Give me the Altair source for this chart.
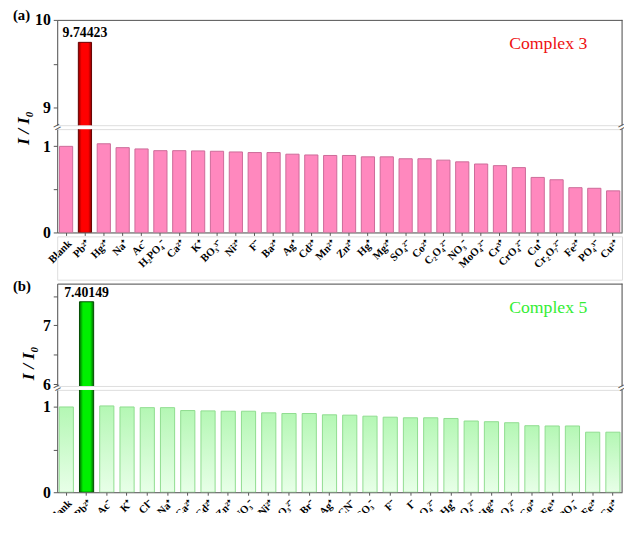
import altair as alt
import pandas as pd

FONT = "Liberation Serif"

ions_a = ["Blank", "Pb²⁺", "Hg²⁺", "Na⁺", "Ac⁻", "H₂PO₄⁻", "Ca²⁺", "K⁺", "BO₃³⁻", "Ni²⁺",
          "F⁻", "Ba²⁺", "Ag⁺", "Cd²⁺", "Mn²⁺", "Zn²⁺", "Hg⁺", "Mg²⁺", "SO₄²⁻", "Co²⁺",
          "C₂O₄²⁻", "NO₃⁻", "MoO₄²⁻", "Cr³⁺", "CrO₄²⁻", "Cu⁺", "Cr₂O₇²⁻", "Fe²⁺", "PO₄³⁻", "Cu²⁺"]
vals_a = [1.00, 9.74423, 1.03, 0.985, 0.97, 0.95, 0.95, 0.947, 0.943, 0.935,
          0.928, 0.928, 0.909, 0.90, 0.894, 0.894, 0.878, 0.878, 0.856, 0.856,
          0.84, 0.82, 0.795, 0.776, 0.753, 0.639, 0.612, 0.52, 0.513, 0.483]

ions_b = ["Blank", "Pb²⁺", "Ac⁻", "K⁺", "Cl⁻", "Na⁺", "Ca²⁺", "Cd²⁺", "Zn²⁺", "NO₃⁻",
          "Ni²⁺", "CO₃²⁻", "Br⁻", "Ag⁺", "SCN⁻", "HCO₃⁻", "F⁻", "I⁻", "SO₄²⁻", "Hg⁺",
          "C₂O₄²⁻", "Hg²⁺", "HPO₄²⁻", "Co²⁺", "Fe³⁺", "H₂PO₄⁻", "Fe²⁺", "Cu²⁺"]
vals_b = [1.00, 7.40149, 1.012, 1.00, 0.992, 0.992, 0.958, 0.954, 0.95, 0.95,
          0.931, 0.923, 0.923, 0.908, 0.904, 0.892, 0.88, 0.873, 0.873, 0.865,
          0.835, 0.827, 0.815, 0.78, 0.777, 0.777, 0.704, 0.704]

PLOT_W = 574
FRAME = "#555555"
LOW_TOP = 1.2
GAP = 4


def grad(stops, horizontal=True):
    return alt.LinearGradient(
        gradient="linear",
        stops=[alt.GradientStop(color=c, offset=o) for o, c in stops],
        x1=0, x2=1 if horizontal else 0, y1=0, y2=0 if horizontal else 1,
    )


def panel(ions, vals, letter, label, label_color, upper_dom, upper_ticks, lower_ticks,
          h_up, h_low, normal_fill, normal_stroke, pb_fill, pb_stroke, pad_outer,
          title_x, title_y, letter_y, pb_text):
    df = pd.DataFrame({"ion": ions, "value": vals})
    df["pb"] = df["ion"] == "Pb²⁺"
    df["txt"] = [pb_text if p else "" for p in df["pb"]]
    xscale = alt.Scale(domain=ions, paddingInner=0.3, paddingOuter=pad_outer)

    def xenc(axis):
        return alt.X("ion:N", sort=ions, scale=xscale, axis=axis, title=None)

    top_axis = alt.Axis(orient="top", labels=False, ticks=False, domain=True,
                        domainColor=FRAME, title=None, minExtent=0, maxExtent=0)
    bottom_axis = alt.Axis(orient="bottom", labelAngle=-45, labelFont=FONT, labelFontSize=11,
                           labelFontWeight="bold", labelColor="black", tickSize=3,
                           tickColor=FRAME, domainColor=FRAME, labelPadding=2, title=None)

    def yleft(ticks):
        return alt.Axis(values=ticks,
                        labelExpr="datum.value % 1 == 0 ? format(datum.value, 'd') : ''",
                        labelFont=FONT, labelFontSize=16, labelFontWeight="bold",
                        labelColor="black", tickSize=4, tickColor=FRAME, domainColor=FRAME,
                        grid=False, labelPadding=3, title=None)

    # ---- upper segment (only the Pb bar reaches it)
    yup = alt.Scale(domain=upper_dom, nice=False, zero=False)
    pb_df = alt.Chart(df).transform_filter("datum.pb")
    up_bar = pb_df.mark_bar(clip=True, fill=pb_fill, stroke=pb_stroke, strokeWidth=1).encode(
        x=xenc(top_axis), y=alt.Y("value:Q", scale=yup, axis=yleft(upper_ticks), title=None),
        y2=alt.datum(upper_dom[0] - 0.03))
    up_txt = pb_df.mark_text(font=FONT, fontSize=14, fontWeight="bold", dy=-9, color="black").encode(
        x=xenc(top_axis), y=alt.Y("value:Q", scale=yup, axis=None), text="txt:N")
    up_frame = pb_df.mark_rule(color=FRAME, strokeWidth=1).encode(
        x=alt.value(PLOT_W), y=alt.value(0), y2=alt.value(h_up))
    lbl = pb_df.mark_text(text=label, font=FONT, fontSize=18, color=label_color).encode(
        x=alt.value(PLOT_W - 75), y=alt.value(25))
    let = pb_df.mark_text(text=letter, font=FONT, fontSize=15, fontWeight="bold",
                          align="left", color="black").encode(
        x=alt.value(-45), y=alt.value(letter_y))
    ytitle = pb_df.mark_text(text="I / I₀", font=FONT, fontSize=18, fontWeight="bold",
                             fontStyle="italic", angle=270, color="black").encode(
        x=alt.value(title_x), y=alt.value(title_y))
    upper = alt.layer(up_bar, up_txt, up_frame, lbl, let, ytitle).resolve_axis(
        y="independent").properties(width=PLOT_W, height=h_up)

    # ---- lower segment
    ylow = alt.Scale(domain=[0, LOW_TOP], nice=False, zero=False)
    base = alt.Chart(df)
    low_bars = base.transform_filter("!datum.pb").mark_bar(
        clip=True, fill=normal_fill, stroke=normal_stroke, strokeWidth=1).encode(
        x=xenc(bottom_axis), y=alt.Y("value:Q", scale=ylow, axis=yleft(lower_ticks), title=None))
    low_pb = base.transform_filter("datum.pb").transform_calculate(
        shown=f"min(datum.value, {LOW_TOP + 0.03})").mark_bar(
        clip=True, fill=pb_fill, stroke=pb_stroke, strokeWidth=1).encode(
        x=xenc(bottom_axis), y=alt.Y("shown:Q", scale=ylow, axis=None))
    low_frame = base.transform_filter("datum.pb").mark_rule(color=FRAME, strokeWidth=1).encode(
        x=alt.value(PLOT_W), y=alt.value(0), y2=alt.value(h_low))
    brk_l = base.transform_filter("datum.pb").mark_text(
        text="=", fontSize=13, angle=330, color=FRAME).encode(
        x=alt.value(0), y=alt.value(-GAP / 2))
    brk_r = base.transform_filter("datum.pb").mark_text(
        text="=", fontSize=13, angle=330, color=FRAME).encode(
        x=alt.value(PLOT_W), y=alt.value(-GAP / 2))
    lower = alt.layer(low_bars, low_pb, low_frame, brk_l, brk_r).resolve_axis(
        y="independent").properties(width=PLOT_W, height=h_low)

    return upper, lower


pink_fill = "#ff88be"
pink_stroke = "#cc6a98"
red_fill = grad([(0, "#8a0000"), (0.25, "#ff0000"), (0.75, "#ff0000"), (1, "#8a0000")])
green_light = grad([(0, "#b4f7b4"), (1, "#e8ffe8")], horizontal=False)
green_fill = grad([(0, "#006a00"), (0.25, "#00f000"), (0.75, "#00f000"), (1, "#006a00")])

ua, la = panel(ions_a, vals_a, "(a)", "Complex 3", "#ee1111", [8.8, 10], [9, 9.5, 10], [0, 0.5, 1],
               107, 105, pink_fill, pink_stroke, red_fill, "#660000", 0.12,
               -34, 110, -5, "9.74423")
ub, lb = panel(ions_b, vals_b, "(b)", "Complex 5", "#33ee33", [5.97, 7.71], [6, 6.5, 7, 7.5], [0, 0.5, 1],
               104, 104, green_light, "#8fdc8f", green_fill, "#004d00", 0.1,
               -29, 81, 2, "7.40149")

spacer = alt.Chart(pd.DataFrame({"k": [0]})).mark_point(opacity=0).encode(
    x=alt.value(0), y=alt.value(0)).properties(width=PLOT_W, height=52 - 2 * GAP)

chart = alt.vconcat(ua, la, spacer, ub, lb, spacing=GAP, bounds="flush").resolve_scale(
    x="independent", y="independent"
).properties(
    padding={"left": 4, "top": -5, "right": -6, "bottom": -21}
).configure_view(stroke=None).configure(background="white")

chart.save("out.html", embed_options={"renderer": "svg", "actions": False})
